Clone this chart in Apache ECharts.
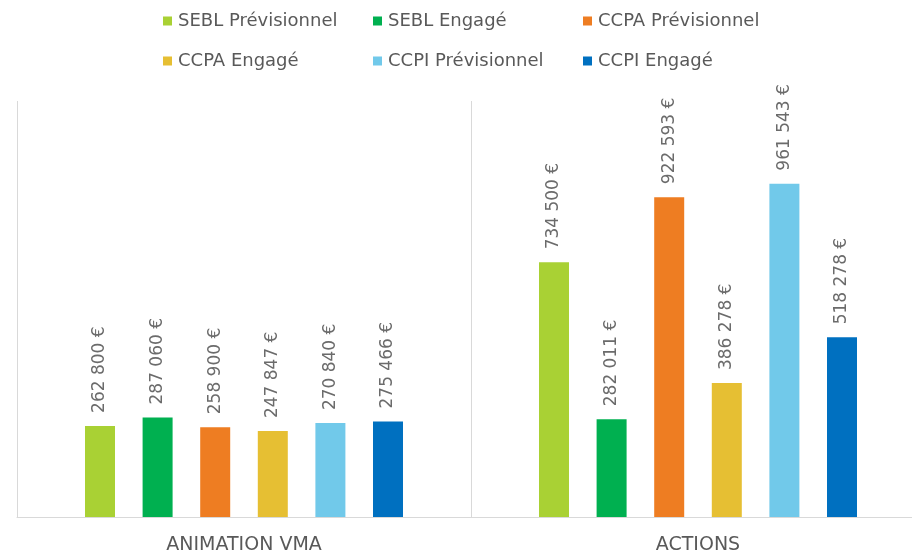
<!DOCTYPE html>
<html>
<head>
<meta charset="utf-8">
<script src="https://cdn.jsdelivr.net/npm/echarts@6/dist/echarts.min.js"></script>
<style>html,body{margin:0;padding:0;background:#fff;overflow:hidden;width:912px;height:558px}#c{width:925px;height:558px}</style>
</head>
<body>
<div id="c"></div>
<script>
const categories = ["ANIMATION VMA", "ACTIONS"];
const seriesNames = ["SEBL Prévisionnel", "SEBL Engagé", "CCPA Prévisionnel", "CCPA Engagé", "CCPI Prévisionnel", "CCPI Engagé"];
const sebPrev = [262800, 734500];
const sebEng = [287060, 282011];
const ccpaPrev = [258900, 922593];
const ccpaEng = [247847, 386278];
const ccpiPrev = [270840, 961543];
const ccpiEng = [275466, 518278];
const colors = ["#A9D134", "#00B050", "#EE7D22", "#E6BF33", "#71C9EA", "#0070C0"];

const values = [sebPrev, sebEng, ccpaPrev, ccpaEng, ccpiPrev, ccpiEng];
const FONT = "DejaVu Sans";
const fmt = v => String(v).replace(/\B(?=(\d{3})+(?!\d))/g, " ") + " €";

const legendPos = [[163, 12], [373, 12], [583, 12], [163, 52], [373, 52], [583, 52]];
const legends = seriesNames.map((n, i) => ({
  left: legendPos[i][0], top: legendPos[i][1],
  data: [n], itemWidth: 9, itemHeight: 9, itemGap: 4,
  icon: 'rect', padding: 0,
  textStyle: {color: '#595959', fontSize: 18, fontFamily: FONT, padding: [0, 0, 0, 1]}
}));

const chart = echarts.init(document.getElementById('c'), null, {renderer: 'canvas'});
chart.setOption({
  animation: false,
  color: colors,
  legend: legends,
  grid: {left: 17, right: 0, top: 101, height: 416, containLabel: false},
  xAxis: {
    type: 'category', data: categories,
    axisLine: {lineStyle: {color: '#D9D9D9', width: 1}},
    axisTick: {show: false},
    splitLine: {show: true, lineStyle: {color: '#D9D9D9', width: 1}},
    axisLabel: {color: '#595959', fontSize: 19, fontFamily: FONT, margin: 19}
  },
  yAxis: {type: 'value', min: 0, max: 1200000, show: false, splitLine: {show: false}},
  series: seriesNames.map((n, i) => ({
    name: n, type: 'bar', data: values[i], barWidth: 30, barGap: '92%',
    itemStyle: {color: colors[i]},
    label: {
      show: true, position: 'top', rotate: 90, align: 'left', verticalAlign: 'middle',
      distance: 13, color: '#6b6b6b', fontSize: 17, fontFamily: FONT,
      formatter: p => fmt(p.value)
    }
  }))
});
</script>
</body>
</html>
